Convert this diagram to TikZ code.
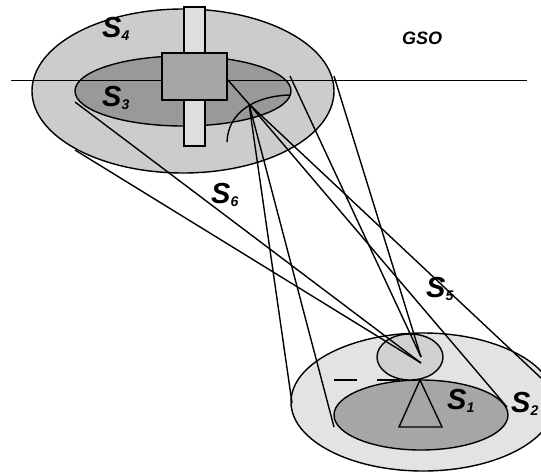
\documentclass[tikz,border=0pt]{standalone}
\usepackage{fontspec}
\setmainfont{Liberation Sans}
\tikzset{
  shape line/.style={draw=black,line width=1.4pt},
  ray/.style={draw=black,line width=1.4pt},
  lab/.style={font=\fontsize{29}{29}\selectfont\bfseries\itshape,inner sep=0pt},
}
\newcommand{\Sub}[1]{S\raisebox{-3pt}{\fontsize{14}{14}\selectfont #1}}
\begin{document}
\begin{tikzpicture}[x=1pt,y=-1pt]
\useasboundingbox (0,0) rectangle (541,472);
\begin{scope}
\clip (0,0) rectangle (541,472);
% upper body
\draw[shape line,fill=black!20] (183,91) ellipse [x radius=151,y radius=82];
\draw[shape line,fill=black!40] (183,91) ellipse [x radius=108,y radius=35];
\draw[shape line,fill=black!13] (184,7) rectangle (205,146);
\draw[line width=1pt] (11,80) -- (527,80);
\draw[shape line,fill=black!35] (162,53) rectangle (227,100);
\draw[shape line] (227,142) .. controls (228,112) and (255,96) .. (290,95);
% lower body
\draw[shape line,fill=black!11] (423,402) ellipse [x radius=132,y radius=69];
\draw[shape line,fill=black!35] (421,415) ellipse [x radius=87,y radius=35];
\draw[shape line,fill=black!18] (410,357) ellipse [x radius=33,y radius=23];
\draw[shape line,fill=black!35] (420,380) -- (399,427) -- (442,427) -- cycle;
\draw[shape line] (334,380) -- (357,380);
\draw[shape line] (377,380) -- (400,380);
% connectors
\coordinate (ap) at (249,104);
\coordinate (sq) at (227,79);
\coordinate (b1) at (421,357);
\coordinate (b2) at (421,363);
\draw[ray] (sq) -- (ap);
\draw[ray] (ap) -- (334,427);
\draw[ray] (ap) -- (292,403);
\draw[ray] (ap) -- (507,407);
\draw[ray] (ap) -- (541,378);
\draw[ray] (290,76) -- (b1);
\draw[ray] (334,76) -- (b1);
\draw[ray] (75,102) -- (b2);
\draw[ray] (75,150) -- (b2);
\end{scope}
\node[lab,anchor=base west] (s4) at (102,37) {\Sub{4}};
\node[lab,anchor=base west] (s3) at (102,106) {\Sub{3}};
\node[lab,anchor=base west] (s6) at (211,203) {\Sub{6}};
\node[lab,anchor=base west] (s5) at (426,297) {\Sub{5}};
\node[lab,anchor=base west] (s1) at (447,409) {\Sub{1}};
\node[lab,anchor=base west] (s2) at (511,412) {\Sub{2}};
\node[font=\fontsize{18}{18}\selectfont\bfseries\itshape,inner sep=0pt,anchor=base west] (gso) at (402,44) {GSO};
\end{tikzpicture}
\end{document}
